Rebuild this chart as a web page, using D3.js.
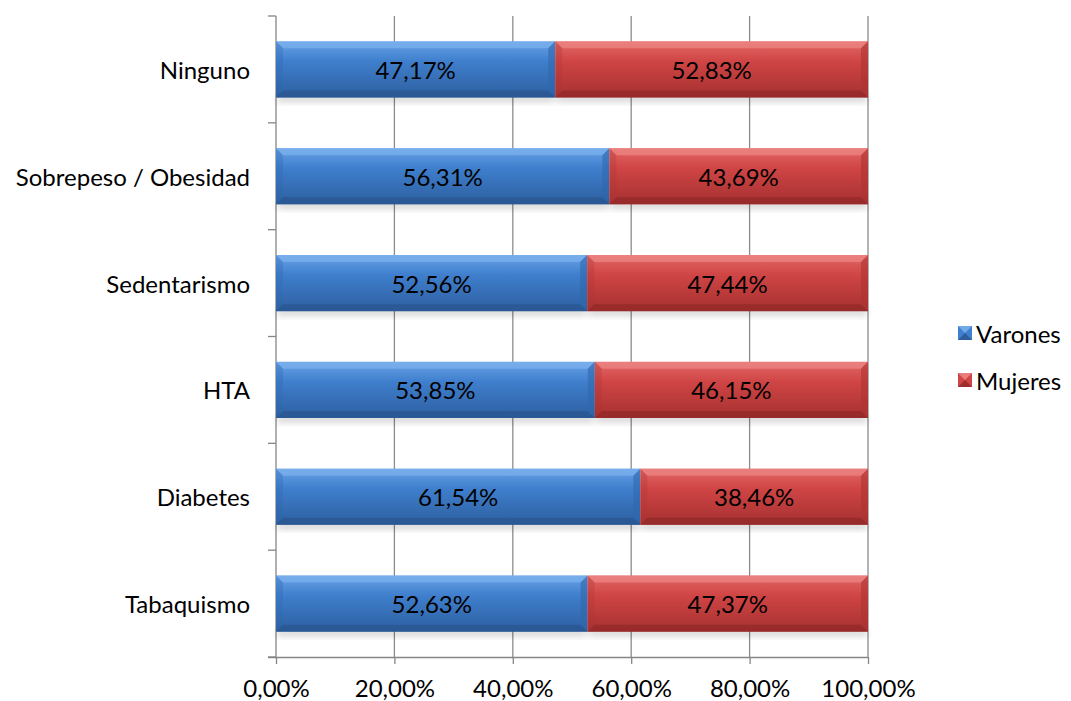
<!DOCTYPE html>
<html>
<head>
<meta charset="utf-8">
<script src="https://cdn.jsdelivr.net/npm/d3@7"></script>
<style>
  html, body { margin: 0; padding: 0; background: #fff; }
  svg { display: block; }
  text { font-family: Lato, "Open Sans", sans-serif; fill: #000; }
</style>
</head>
<body>
<svg id="chart" width="1071" height="701"></svg>
<script>
// Factores de riesgo por sexo (porcentaje de cada categoría)
const categories = ["Ninguno", "Sobrepeso / Obesidad", "Sedentarismo", "HTA", "Diabetes", "Tabaquismo"];
const varones = [47.17, 56.31, 52.56, 53.85, 61.54, 52.63];
const mujeres = [52.83, 43.69, 47.44, 46.15, 38.46, 47.37];
const seriesNames = ["Varones", "Mujeres"];
const xTicks = [0, 20, 40, 60, 80, 100];

const FS = 24;
const svg = d3.select("#chart");
const margin = { left: 276, right: 203, top: 16, bottom: 44 };
const W = 1071, H = 701;

const x = d3.scaleLinear().domain([0, 100]).range([margin.left, W - margin.right]);
const y = d3.scaleBand().domain(categories).range([margin.top, H - margin.bottom])
  .paddingInner(0.475).paddingOuter(0.2375);

const fmt = v => d3.format(".2f")(v).replace(".", ",") + "%";

const palette = {
  Varones: { face: "#3f7fcd", light: "#68a2e6", top: "#80b4ee", bottom: "#2a5590", side: "#3068ad", dark: "#2d5fa0" },
  Mujeres: { face: "#d04545", light: "#e26867", top: "#ee8c8a", bottom: "#922828", side: "#ad3434", dark: "#a63030" }
};

const defs = svg.append("defs");
seriesNames.forEach(s => {
  const p = palette[s];
  const g = defs.append("linearGradient").attr("id", "face-" + s)
    .attr("x1", 0).attr("y1", 0).attr("x2", 0).attr("y2", 1);
  g.append("stop").attr("offset", "0%").attr("stop-color", p.light);
  g.append("stop").attr("offset", "35%").attr("stop-color", p.face);
  g.append("stop").attr("offset", "100%").attr("stop-color", p.dark);
});
const sh = defs.append("filter").attr("id", "shadow").attr("x", "-5%").attr("y", "-20%").attr("width", "110%").attr("height", "160%");
sh.append("feGaussianBlur").attr("stdDeviation", 3);

// Gridlines
svg.append("g").selectAll("line").data(xTicks.slice(1)).join("line")
  .attr("x1", d => x(d)).attr("x2", d => x(d))
  .attr("y1", margin.top).attr("y2", H - margin.bottom)
  .attr("stroke", "#8c8c8c").attr("stroke-width", 1.3);

// X axis
const xAxis = svg.append("g").attr("transform", `translate(0,${H - margin.bottom})`)
  .call(d3.axisBottom(x).tickValues(xTicks).tickFormat(fmt).tickSize(7).tickPadding(16));
xAxis.select(".domain").attr("stroke", "#868686").attr("stroke-width", 1.3)
  .attr("d", `M${x(0) - 8},0.5H${x(100)}`);
xAxis.selectAll(".tick line").attr("stroke", "#868686").attr("stroke-width", 1.3);
xAxis.selectAll(".tick text").attr("font-size", FS).attr("font-family", "Lato, sans-serif").attr("fill", "#000");

// Y axis (ticks at band boundaries)
const bandStep = (H - margin.bottom - margin.top) / categories.length;
svg.append("line").attr("x1", x(0)).attr("x2", x(0)).attr("y1", margin.top).attr("y2", H - margin.bottom)
  .attr("stroke", "#868686").attr("stroke-width", 1.3);
svg.append("g").selectAll("line").data(d3.range(categories.length + 1)).join("line")
  .attr("x1", x(0) - 8).attr("x2", x(0))
  .attr("y1", i => margin.top + i * bandStep).attr("y2", i => margin.top + i * bandStep)
  .attr("stroke", "#868686").attr("stroke-width", 1.3);

// Category labels
svg.append("g").selectAll("text").data(categories).join("text")
  .attr("x", x(0) - 26).attr("y", d => y(d) + y.bandwidth() / 2)
  .attr("text-anchor", "end").attr("dominant-baseline", "central")
  .attr("font-size", FS).text(d => d);

// Stacked, bevelled bars
const rows = categories.map((c, i) => ({ cat: c, Varones: varones[i], Mujeres: mujeres[i] }));
const stacked = d3.stack().keys(seriesNames)(rows);

const barsG = svg.append("g");
stacked.forEach(layer => {
  const s = layer.key, p = palette[s];
  layer.forEach(seg => {
    const x0 = x(seg[0]), x1 = x(seg[1]);
    const y0 = y(seg.data.cat), y1 = y0 + y.bandwidth();
    const b = 7;
    const g = barsG.append("g");
    // soft shadow under the bar
    g.append("rect").attr("x", x0 + 1).attr("y", y1 - 3).attr("width", x1 - x0 - 2).attr("height", 8)
      .attr("fill", "#000").attr("opacity", 0.15).attr("filter", "url(#shadow)");
    g.append("rect").attr("x", x0).attr("y", y0).attr("width", x1 - x0).attr("height", y1 - y0)
      .attr("fill", `url(#face-${s})`);
    const poly = pts => pts.map(q => q.join(",")).join(" ");
    g.append("polygon").attr("points", poly([[x0, y0], [x1, y0], [x1 - b, y0 + b], [x0 + b, y0 + b]]))
      .attr("fill", p.top).attr("opacity", 0.65);
    g.append("polygon").attr("points", poly([[x0, y1], [x1, y1], [x1 - b, y1 - b], [x0 + b, y1 - b]]))
      .attr("fill", p.bottom).attr("opacity", 0.7);
    g.append("polygon").attr("points", poly([[x0, y0], [x0 + b, y0 + b], [x0 + b, y1 - b], [x0, y1]]))
      .attr("fill", p.side).attr("opacity", 0.3);
    g.append("polygon").attr("points", poly([[x1, y0], [x1 - b, y0 + b], [x1 - b, y1 - b], [x1, y1]]))
      .attr("fill", p.side).attr("opacity", 0.6);
    g.append("text").attr("x", (x0 + x1) / 2).attr("y", (y0 + y1) / 2)
      .attr("text-anchor", "middle").attr("dominant-baseline", "central")
      .attr("font-size", FS).attr("fill", "#111").text(fmt(seg[1] - seg[0]));
  });
});

// Legend
const legend = svg.append("g").attr("transform", "translate(958,0)");
seriesNames.forEach((s, i) => {
  const p = palette[s];
  const cy = 333 + i * 47;
  const lg = legend.append("g");
  lg.append("rect").attr("x", 0).attr("y", cy - 7).attr("width", 14).attr("height", 14).attr("fill", p.face);
  lg.append("polygon").attr("points", `0,${cy - 7} 14,${cy - 7} 7,${cy}`).attr("fill", p.top).attr("opacity", 0.8);
  lg.append("polygon").attr("points", `0,${cy + 7} 14,${cy + 7} 7,${cy}`).attr("fill", p.bottom).attr("opacity", 0.8);
  lg.append("text").attr("x", 18).attr("y", cy).attr("dominant-baseline", "central")
    .attr("font-size", FS).text(s);
});
</script>
</body>
</html>
